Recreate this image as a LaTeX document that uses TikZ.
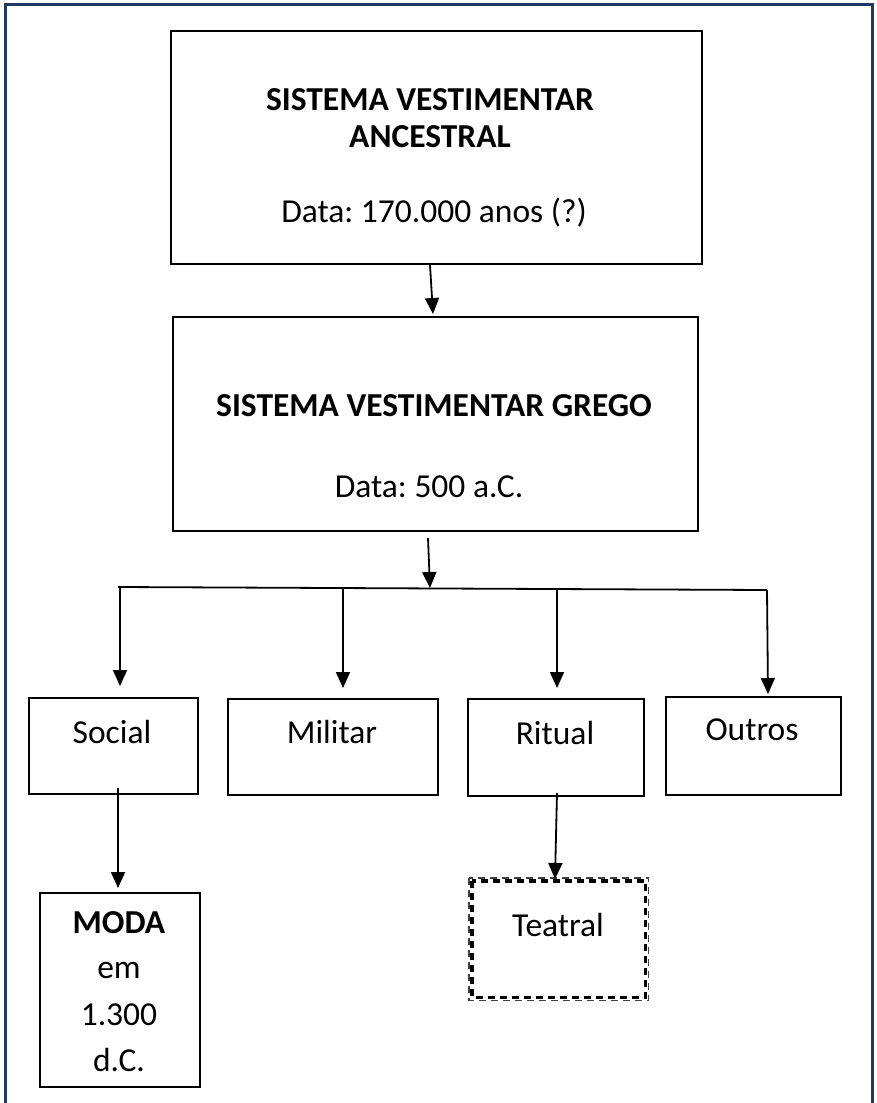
\documentclass[tikz,border=0pt]{standalone}
\usepackage{fontspec}
\setmainfont{Carlito}
\usetikzlibrary{arrows.meta}
\definecolor{navyframe}{RGB}{31,56,100}
\frenchspacing
\begin{document}
\begin{tikzpicture}[x=1pt,y=-1pt,
  boxline/.style={draw=black,line width=1.8pt,inner sep=0pt,anchor=north west},
  txt/.style={inner sep=0pt,font=\fontsize{33.5}{40}\selectfont},
  btxt/.style={inner sep=0pt,font=\fontsize{33.5}{40}\selectfont\bfseries},
  arr/.style={line width=1.8pt,-{Triangle[length=16pt,width=14pt]}},
  dashthick/.style={line width=3.8pt,dash pattern=on 7pt off 5pt},
  dashthin/.style={line width=1.2pt,dash pattern=on 7pt off 5pt,draw=black!75},
]
\useasboundingbox (0,0) rectangle (876,1103);
\draw[navyframe,line width=3pt] (5.5,4.5) rectangle (872.5,1120);

% boxes
\node[boxline,minimum width=531pt,minimum height=233pt] (anc) at (170,30) {};
\node[boxline,minimum width=525pt,minimum height=214pt] (gre) at (172,316) {};
\node[boxline,minimum width=169pt,minimum height=96pt] (soc) at (28,697) {};
\node[boxline,minimum width=210pt,minimum height=96pt] (mil) at (227,698) {};
\node[boxline,minimum width=176pt,minimum height=97pt] (rit) at (467,698) {};
\node[boxline,minimum width=175pt,minimum height=98pt] (out) at (665,696) {};
\node[boxline,minimum width=160pt,minimum height=194pt] (moda) at (39,892) {};
\node[inner sep=0pt,anchor=north west,minimum width=173pt,minimum height=116pt] (tea) at (472,881) {};
\draw[dashthick] (tea.north west) rectangle (tea.south east);
\draw[dashthin] ([xshift=-3pt,yshift=3pt]tea.north west) rectangle ([xshift=3pt,yshift=-3pt]tea.south east);

% texts
\node[btxt] (t1a) at (430,100) {SISTEMA VESTIMENTAR};
\node[btxt] (t1b) at (430,137) {ANCESTRAL};
\node[txt] (t1c) at (434,213) {Data: 170.000 anos (?)};
\node[btxt] (t2a) at (434,406) {SISTEMA VESTIMENTAR GREGO};
\node[txt] (t2b) at (429,487) {Data: 500 a.C.};
\node[txt] (tsoc) at (112,732) {Social};
\node[txt] (tmil) at (332,732) {Militar};
\node[txt] (trit) at (555,733) {Ritual};
\node[txt] (tout) at (752,730) {Outros};
\node[btxt] (tm1) at (119,923) {MODA};
\node[txt] (tm2) at (119,970) {em};
\node[txt] (tm3) at (119,1015) {1.300};
\node[txt] (tm4) at (119,1060) {d.C.};
\node[txt] (ttea) at (558,925) {Teatral};

% connector points
\coordinate (a1s) at (430,265);
\coordinate (a1e) at (433,314);
\coordinate (a2s) at (428,538);
\coordinate (a2e) at (430,588);
\coordinate (hl) at (118,587);
\coordinate (hr) at (767,590);
\coordinate (b1s) at (120,587);
\coordinate (b1e) at (120,686);
\coordinate (b2s) at (343,588);
\coordinate (b2e) at (343,688);
\coordinate (b3s) at (557,588);
\coordinate (b3e) at (557,688);
\coordinate (b4s) at (767,590);
\coordinate (b4e) at (768,694);
\coordinate (c1s) at (118,788);
\coordinate (c1e) at (118,888);
\coordinate (c2s) at (557,793);
\coordinate (c2e) at (555,879);

\draw[arr] (a1s) -- (a1e);
\draw[arr] (a2s) -- (a2e);
\draw[line width=1.8pt] (hl) -- (hr);
\draw[arr] (b1s) -- (b1e);
\draw[arr] (b2s) -- (b2e);
\draw[arr] (b3s) -- (b3e);
\draw[arr] (b4s) -- (b4e);
\draw[arr] (c1s) -- (c1e);
\draw[arr] (c2s) -- (c2e);
\end{tikzpicture}
\end{document}
